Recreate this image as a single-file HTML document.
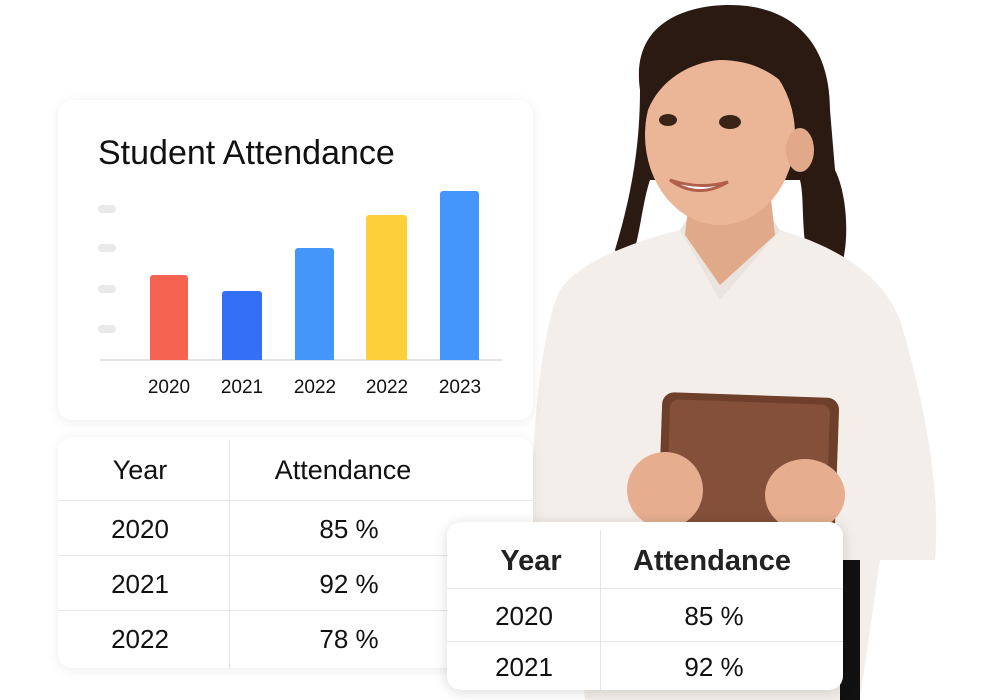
<!DOCTYPE html>
<html><head><meta charset="utf-8"><style>
body{margin:0;width:1000px;height:700px;background:#fff;position:relative;overflow:hidden;font-family:"Liberation Sans",sans-serif;color:#111}
.card{position:absolute;background:#fff;border-radius:14px;box-shadow:0 2px 12px rgba(0,0,0,0.08)}
.t{position:absolute;transform:translateX(-50%);white-space:nowrap}
</style></head><body>
<svg style="position:absolute;left:0;top:0" width="1000" height="700">
 <!-- hair back -->
 <path d="M640,90 C630,20 690,5 730,5 C790,5 830,40 830,110 L835,170 C850,200 850,260 835,280 L810,270 C800,230 805,200 800,180 L650,180 C640,210 640,250 625,270 L615,250 C630,200 640,150 640,90Z" fill="#2a1a12"/>
 <!-- shirt -->
 <path d="M560,290 C580,260 640,240 680,230 L780,230 C830,245 880,270 900,320 C930,420 940,500 935,560 L880,560 L860,700 L585,700 L570,560 L530,560 C530,450 540,330 560,290Z" fill="#f4eeea"/>
 <path d="M680,230 L720,300 L780,230 L770,215 L690,215Z" fill="#ebe3dd"/>
 <!-- neck -->
 <path d="M690,190 L770,190 L775,235 L720,285 L685,235Z" fill="#e0a98a"/>
 <!-- face -->
 <ellipse cx="720" cy="135" rx="75" ry="90" fill="#ebb697"/>
 <ellipse cx="800" cy="150" rx="14" ry="22" fill="#e2a88a"/>
 <path d="M648,110 C650,40 700,20 740,22 C790,25 815,60 812,120 C790,80 760,60 720,60 C690,62 660,80 648,110Z" fill="#2a1a12"/>
 <ellipse cx="668" cy="120" rx="9" ry="6" fill="#3a2418"/>
 <ellipse cx="730" cy="122" rx="11" ry="7" fill="#3a2418"/>
 <path d="M670,180 Q698,200 728,182 Q700,190 670,180Z" fill="#fff" stroke="#b0604a" stroke-width="3"/>
 <!-- tablet -->
 <rect x="660" y="395" width="177" height="142" rx="12" fill="#6e3f2a" transform="rotate(2 748 466)"/>
 <rect x="668" y="402" width="160" height="128" rx="8" fill="#85503a" transform="rotate(2 748 466)"/>
 <!-- hands -->
 <ellipse cx="665" cy="490" rx="38" ry="38" fill="#e6ad8f"/>
 <ellipse cx="805" cy="495" rx="40" ry="36" fill="#e6ad8f"/>
 <rect x="840" y="560" width="20" height="140" fill="#111"/>
</svg>

<div class="card" style="left:58px;top:100px;width:475px;height:320px">
</div>
<div style="position:absolute;left:98px;top:134px;font-size:34px">Student Attendance</div>
<div style="position:absolute;left:98px;top:205px;width:18px;height:8px;border-radius:4px;background:#e9e9e9"></div>
<div style="position:absolute;left:98px;top:244px;width:18px;height:8px;border-radius:4px;background:#e9e9e9"></div>
<div style="position:absolute;left:98px;top:285px;width:18px;height:8px;border-radius:4px;background:#e9e9e9"></div>
<div style="position:absolute;left:98px;top:325px;width:18px;height:8px;border-radius:4px;background:#e9e9e9"></div>
<div style="position:absolute;left:100px;top:359px;width:402px;height:2px;background:#e3e3e3"></div>
<div style="position:absolute;left:150px;top:275px;width:38px;height:85px;background:#f76352;border-radius:3px 3px 0 0"></div>
<div style="position:absolute;left:222px;top:291px;width:40px;height:69px;background:#3470f5;border-radius:3px 3px 0 0"></div>
<div style="position:absolute;left:295px;top:248px;width:39px;height:112px;background:#4596fb;border-radius:3px 3px 0 0"></div>
<div style="position:absolute;left:366px;top:215px;width:41px;height:145px;background:#fdd039;border-radius:3px 3px 0 0"></div>
<div style="position:absolute;left:440px;top:191px;width:39px;height:169px;background:#4596fb;border-radius:3px 3px 0 0"></div>
<div class="t" style="left:169px;top:377px;font-size:19px">2020</div>
<div class="t" style="left:242px;top:377px;font-size:19px">2021</div>
<div class="t" style="left:315px;top:377px;font-size:19px">2022</div>
<div class="t" style="left:387px;top:377px;font-size:19px">2022</div>
<div class="t" style="left:460px;top:377px;font-size:19px">2023</div>

<div class="card" style="left:58px;top:437px;width:475px;height:231px"></div>
<div style="position:absolute;left:229px;top:440px;width:1px;height:228px;background:#e6e6e6"></div>
<div style="position:absolute;left:58px;top:500px;width:475px;height:1px;background:#e6e6e6"></div>
<div style="position:absolute;left:58px;top:555px;width:475px;height:1px;background:#e6e6e6"></div>
<div style="position:absolute;left:58px;top:610px;width:475px;height:1px;background:#e6e6e6"></div>
<div class="t" style="left:140px;top:455px;font-size:27px">Year</div>
<div class="t" style="left:343px;top:455px;font-size:27px">Attendance</div>
<div class="t" style="left:140px;top:514px;font-size:26px">2020</div>
<div class="t" style="left:349px;top:514px;font-size:26px">85 %</div>
<div class="t" style="left:140px;top:569px;font-size:26px">2021</div>
<div class="t" style="left:349px;top:569px;font-size:26px">92 %</div>
<div class="t" style="left:140px;top:624px;font-size:26px">2022</div>
<div class="t" style="left:349px;top:624px;font-size:26px">78 %</div>

<div class="card" style="left:447px;top:522px;width:396px;height:168px;box-shadow:0 2px 14px rgba(0,0,0,0.15)"></div>
<div style="position:absolute;left:600px;top:530px;width:1px;height:160px;background:#e6e6e6"></div>
<div style="position:absolute;left:447px;top:588px;width:396px;height:1px;background:#e6e6e6"></div>
<div style="position:absolute;left:447px;top:641px;width:396px;height:1px;background:#e6e6e6"></div>
<div class="t" style="left:531px;top:545px;font-size:29px;font-weight:bold;color:#222">Year</div>
<div class="t" style="left:712px;top:545px;font-size:29px;font-weight:bold;color:#222">Attendance</div>
<div class="t" style="left:524px;top:601px;font-size:26px">2020</div>
<div class="t" style="left:714px;top:601px;font-size:26px">85 %</div>
<div class="t" style="left:524px;top:652px;font-size:26px">2021</div>
<div class="t" style="left:714px;top:652px;font-size:26px">92 %</div>
</body></html>
